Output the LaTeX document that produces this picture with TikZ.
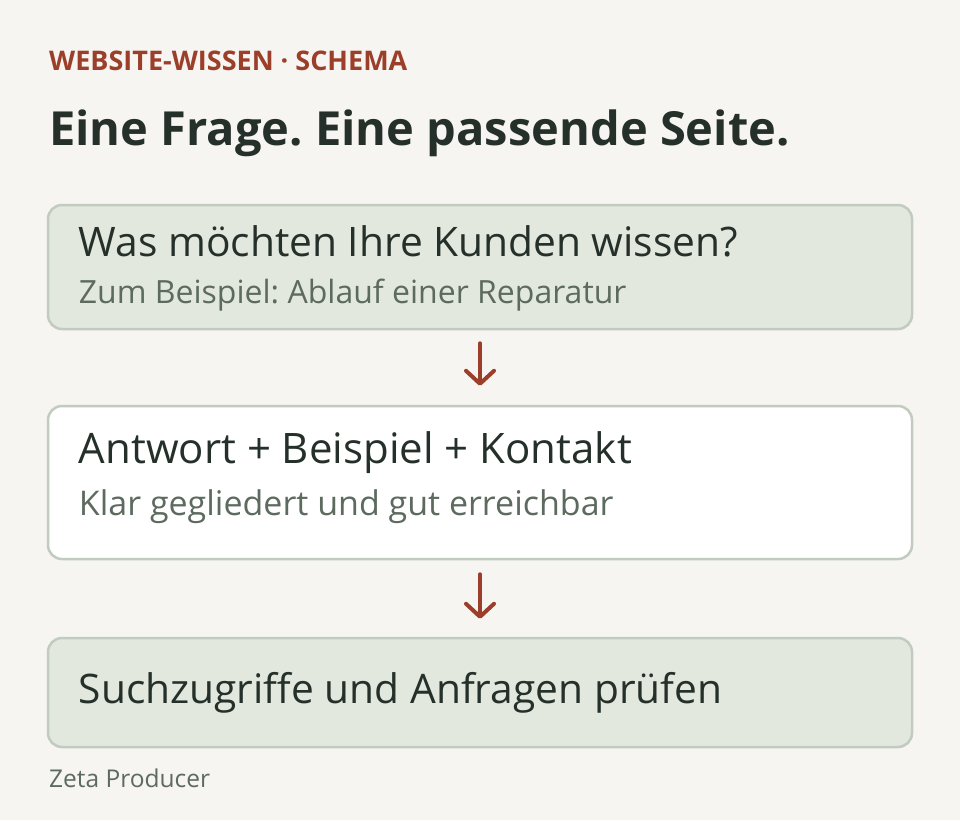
\documentclass[tikz,border=0pt]{standalone}
\usepackage{fontspec}
\setmainfont{Open Sans}
\usepackage{xcolor}
\usetikzlibrary{arrows.meta}
\frenchspacing

\definecolor{paper}{HTML}{F6F5F1}
\definecolor{rust}{HTML}{9C3F2A}
\definecolor{ink}{HTML}{26302A}
\definecolor{muted}{HTML}{5D6B5F}
\definecolor{sage}{HTML}{E2E8DE}
\definecolor{sageline}{HTML}{C2CBBF}

\tikzset{
  card/.style = {draw=sageline, line width=2.5pt, rounded corners=14pt,
                 minimum width=864pt, inner sep=0pt},
  cardhead/.style = {anchor=base west, inner sep=0pt, text=ink,
                     font=\fontsize{40.7}{44}\selectfont},
  cardsub/.style = {anchor=base west, inner sep=0pt, text=muted,
                    font=\fontsize{32}{36}\selectfont},
  flow/.style = {draw=rust, line width=4pt, line cap=round,
                 -{Straight Barb[length=13pt, width=28pt, line width=4pt, round]}}
}

\begin{document}
\begin{tikzpicture}[x=1pt, y=-1pt]
				\fill[paper] (0,0) rectangle (960,820);
				\useasboundingbox (0,0) rectangle (960,820);

				\node[anchor=base west, inner sep=0pt, text=rust, font=\fontsize{27}{30}\selectfont\bfseries] (kicker) at (49,70) {WEBSITE-WISSEN · SCHEMA};
				\node[anchor=base west, inner sep=0pt, text=ink, font=\fontsize{47}{52}\selectfont\bfseries] (title) at (49,145) {Eine Frage. Eine passende Seite.};

				\node[card, fill=sage, minimum height=124pt] (ask) at (480,267) {};
				\node[card, fill=white, minimum height=153pt] (page) at (480,482.5) {};
				\node[card, fill=sage, minimum height=109pt] (check) at (480,692.5) {};

				\node[cardhead] (askhead) at ([shift={(32,53)}]ask.north west) {Was möchten Ihre Kunden wissen?};
				\node[cardsub] (asksub) at ([shift={(32,100)}]ask.north west) {Zum Beispiel: Ablauf einer Reparatur};
				\node[cardhead, font=\fontsize{42}{46}\selectfont] (pagehead) at ([shift={(32,59)}]page.north west) {Antwort + Beispiel + Kontakt};
				\node[cardsub, font=\fontsize{34}{38}\selectfont] (pagesub) at ([shift={(32,111)}]page.north west) {Klar gegliedert und gut erreichbar};
				\node[cardhead] (checkhead) at ([shift={(32,67)}]check.north west) {Suchzugriffe und Anfragen prüfen};

				\draw[flow, shorten <=13pt, shorten >=19pt] (ask.south) -- (page.north);
				\draw[flow, shorten <=14pt, shorten >=18pt] (page.south) -- (check.north);

				\node[anchor=base west, inner sep=0pt, text=muted, font=\fontsize{24.5}{28}\selectfont] (brand) at (49,787) {Zeta Producer};
\end{tikzpicture}
\end{document}
